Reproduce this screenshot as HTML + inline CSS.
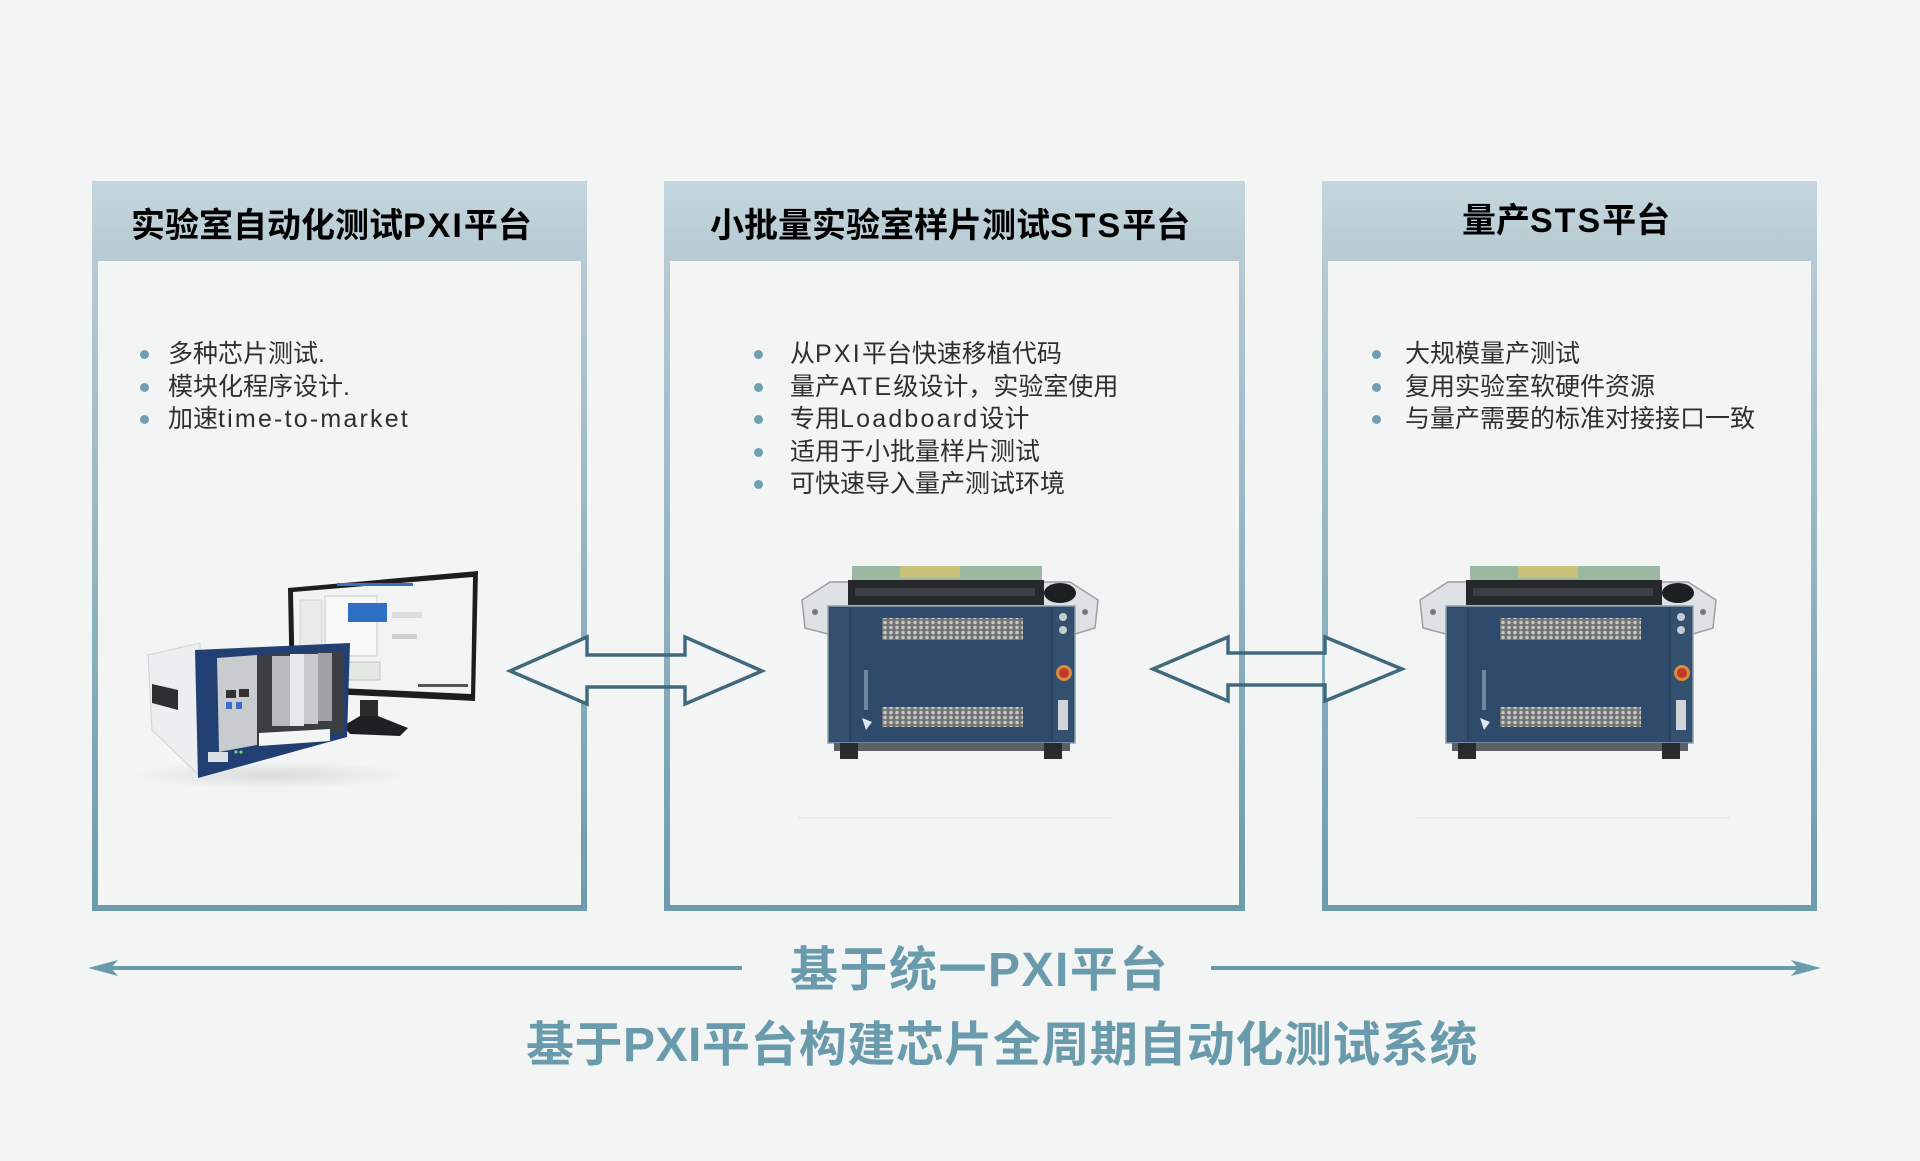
<!DOCTYPE html>
<html><head><meta charset="utf-8">
<style>
html,body{margin:0;padding:0;}
body{width:1920px;height:1161px;background:#f3f5f4;position:relative;overflow:hidden;font-family:"Liberation Sans","Noto Sans CJK SC",sans-serif;}
.box{position:absolute;top:181px;height:730px;background:linear-gradient(to bottom,#c4d6dd 0%,#b6cad3 11%,#a6c0cb 30%,#6b9bad 100%);}
.inner{position:absolute;left:6px;right:6px;top:80px;bottom:6px;background:#f3f5f4;}
.title{position:absolute;font-weight:bold;font-size:34px;line-height:34px;color:#000;white-space:nowrap;}
.title b{letter-spacing:2px;}
.list{position:absolute;top:338px;font-size:25px;line-height:32.5px;color:#2f2f2f;white-space:nowrap;}
.list div{position:relative;height:32.5px;}
.list div i{position:absolute;top:12px;width:9px;height:9px;border-radius:50%;background:#6e9fb1;}
.list span{letter-spacing:2.2px;}
.bt{position:absolute;font-weight:bold;color:#6a9bad;white-space:nowrap;font-size:48px;line-height:48px;}
svg{position:absolute;left:0;top:0;}
</style></head>
<body>
<div class="box" style="left:92px;width:495px;"><div class="inner"></div></div>
<div class="box" style="left:664px;width:581px;"><div class="inner"></div></div>
<div class="box" style="left:1322px;width:495px;"><div class="inner"></div></div>

<svg width="1920" height="1161" viewBox="0 0 1920 1161">
<defs>
<pattern id="grid" width="6" height="5" patternUnits="userSpaceOnUse">
<rect width="6" height="5" fill="#6f7478"/>
<circle cx="3" cy="2.5" r="1.8" fill="#c9c6bd"/>
</pattern>
<radialGradient id="sh" cx="0.5" cy="0.5" r="0.5">
<stop offset="0" stop-color="#d9dcdc"/><stop offset="1" stop-color="#f3f5f4"/>
</radialGradient>
<g id="sts">
<path d="M802,600 L830,582 L1070,582 L1098,600 L1095,628 L1075,634 L828,634 L805,628 Z" fill="#dfe2e4" stroke="#9aa0a4" stroke-width="1.5"/>
<circle cx="815" cy="612" r="3" fill="#777"/><circle cx="1085" cy="612" r="3" fill="#777"/>
<rect x="852" y="566" width="190" height="20" fill="#9bb8a2"/>
<rect x="900" y="566" width="60" height="12" fill="#c8c27a"/>
<rect x="848" y="580" width="196" height="25" fill="#26282a"/>
<rect x="855" y="588" width="180" height="8" fill="#3c3f42"/>
<ellipse cx="1060" cy="593" rx="16" ry="10" fill="#1e1f20"/>
<rect x="828" y="606" width="247" height="137" fill="#2f4b6c" stroke="#90a0b0" stroke-width="1.5"/>
<rect x="830" y="608" width="20" height="133" fill="#33506f"/>
<rect x="1052" y="608" width="21" height="133" fill="#33506f"/>
<line x1="850" y1="608" x2="850" y2="741" stroke="#22384f" stroke-width="1"/>
<line x1="1052" y1="608" x2="1052" y2="741" stroke="#22384f" stroke-width="1"/>
<rect x="882" y="618" width="141" height="22" fill="url(#grid)"/>
<rect x="882" y="707" width="141" height="20" fill="url(#grid)"/>
<circle cx="1064" cy="673" r="8" fill="#d98a3a"/>
<circle cx="1064" cy="673" r="5" fill="#c0392b"/>
<circle cx="1063" cy="617" r="4" fill="#c8ccd0"/><circle cx="1063" cy="630" r="4" fill="#c8ccd0"/>
<rect x="1058" y="700" width="10" height="30" fill="#d0d4d8"/>
<path d="M862,718 L872,722 L866,730 Z" fill="#e0e6ee"/>
<rect x="864" y="670" width="4" height="40" fill="#6e86a0"/>
<rect x="834" y="743" width="236" height="8" fill="#5d6063"/>
<rect x="840" y="743" width="18" height="16" fill="#2a2b2c"/>
<rect x="1044" y="743" width="18" height="16" fill="#2a2b2c"/>
<line x1="798" y1="818" x2="1112" y2="818" stroke="#e4e7e7" stroke-width="1.5"/>
</g>
</defs>

<!-- PXI image -->
<ellipse cx="270" cy="775" rx="140" ry="14" fill="url(#sh)"/>
<path d="M288,588 L478,571 L475,701 L290,692 Z" fill="#1c1d1f"/>
<path d="M293,592 L473,577 L471,694 L295,686 Z" fill="#f2f3f3"/>
<rect x="337" y="583" width="76" height="3" fill="#3a6fc0"/>
<rect x="325" y="596" width="52" height="60" fill="#f8f8f8" stroke="#c8c8c8" stroke-width="1"/>
<rect x="348" y="603" width="39" height="19" fill="#2f6fc4"/>
<rect x="300" y="600" width="22" height="60" fill="#eaeaea" stroke="#cfcfcf" stroke-width="0.8"/>
<rect x="392" y="612" width="30" height="6" fill="#dcdcdc"/>
<rect x="392" y="634" width="25" height="5" fill="#cfcfcf"/>
<rect x="348" y="662" width="32" height="18" fill="#e2e8e2" stroke="#bbb" stroke-width="0.8"/>
<rect x="418" y="684" width="50" height="3" fill="#555"/>
<rect x="360" y="700" width="18" height="19" fill="#2a2b2d"/>
<path d="M343,726 L360,716 L378,716 L408,728 L400,736 L350,734 Z" fill="#1f2022"/>
<path d="M148,655 L200,643 L202,778 L152,730 Z" fill="#eceeef" stroke="#cfd3d6" stroke-width="1"/>
<path d="M152,684 L178,690 L178,710 L152,703 Z" fill="#2d2f31"/>
<path d="M195,650 L350,643 L347,737 L198,778 Z" fill="#213f73"/>
<path d="M217,658 L257,655 L257,745 L219,752 Z" fill="#c9cccf"/>
<rect x="226" y="690" width="10" height="8" fill="#333"/>
<rect x="239" y="689" width="10" height="8" fill="#333"/>
<rect x="226" y="702" width="6" height="7" fill="#3a6fc9"/>
<rect x="236" y="702" width="6" height="7" fill="#3a6fc9"/>
<path d="M257,655 L343,651 L343,732 L257,745 Z" fill="#3b3e42"/>
<rect x="272" y="656" width="18" height="70" fill="#b9bcbf"/>
<rect x="290" y="654" width="14" height="72" fill="#e6e8e9"/>
<rect x="304" y="654" width="14" height="70" fill="#c7cacc"/>
<rect x="318" y="653" width="14" height="68" fill="#9ea2a6"/>
<path d="M259,733 L330,729 L330,741 L259,746 Z" fill="#f3f4f4"/>
<rect x="208" y="752" width="20" height="10" fill="#dcdfe2"/>
<circle cx="236" cy="752" r="1.6" fill="#7ed36a"/><circle cx="241" cy="752" r="1.6" fill="#7ed36a"/>

<use href="#sts"/>
<use href="#sts" transform="translate(618,0)"/>

<polygon points="510,671 587,637 587,704" fill="#f3f5f4"/>
<polygon points="762,671 685,637 685,704" fill="#f3f5f4"/>
<polygon points="510,671 587,637 587,655 685,655 685,637 762,671 685,704 685,687 587,687 587,704" fill="none" stroke="#41697e" stroke-width="3.5" stroke-linejoin="miter"/>
<polygon points="1153,669 1228,637 1228,701" fill="#f3f5f4"/>
<polygon points="1402,669 1325,637 1325,701" fill="#f3f5f4"/>
<polygon points="1153,669 1228,637 1228,653 1325,653 1325,637 1402,669 1325,701 1325,685 1228,685 1228,701" fill="none" stroke="#41697e" stroke-width="3.5" stroke-linejoin="miter"/>

<rect x="110" y="966" width="632" height="4" fill="#6a9bad"/>
<path d="M88,968 L118,960 L111,968 L118,976 Z" fill="#6a9bad"/>
<rect x="1211" y="966" width="590" height="4" fill="#6a9bad"/>
<path d="M1821,968 L1791,960 L1798,968 L1791,976 Z" fill="#6a9bad"/>
</svg>

<div class="title" style="left:131px;top:209px;">实验室自动化测试<b>PXI</b>平台</div>
<div class="title" style="left:710px;top:209px;">小批量实验室样片测试<b>STS</b>平台</div>
<div class="title" style="left:1462px;top:204px;">量产<b>STS</b>平台</div>

<div class="list" style="left:168px;">
<div><i style="left:-28px;"></i>多种芯片测试.</div>
<div><i style="left:-28px;"></i>模块化程序设计.</div>
<div><i style="left:-28px;"></i>加速<span>time-to-market</span></div>
</div>
<div class="list" style="left:790px;">
<div><i style="left:-36px;"></i>从<span>PXI</span>平台快速移植代码</div>
<div><i style="left:-36px;"></i>量产<span>ATE</span>级设计，实验室使用</div>
<div><i style="left:-36px;"></i>专用<span>Loadboard</span>设计</div>
<div><i style="left:-36px;"></i>适用于小批量样片测试</div>
<div><i style="left:-36px;"></i>可快速导入量产测试环境</div>
</div>
<div class="list" style="left:1405px;">
<div><i style="left:-33px;"></i>大规模量产测试</div>
<div><i style="left:-33px;"></i>复用实验室软硬件资源</div>
<div><i style="left:-33px;"></i>与量产需要的标准对接接口一致</div>
</div>

<div class="bt" style="left:790px;top:947px;letter-spacing:1.5px;">基于统一PXI平台</div>
<div class="bt" style="left:526px;top:1022px;letter-spacing:0.5px;">基于PXI平台构建芯片全周期自动化测试系统</div>
</body></html>
